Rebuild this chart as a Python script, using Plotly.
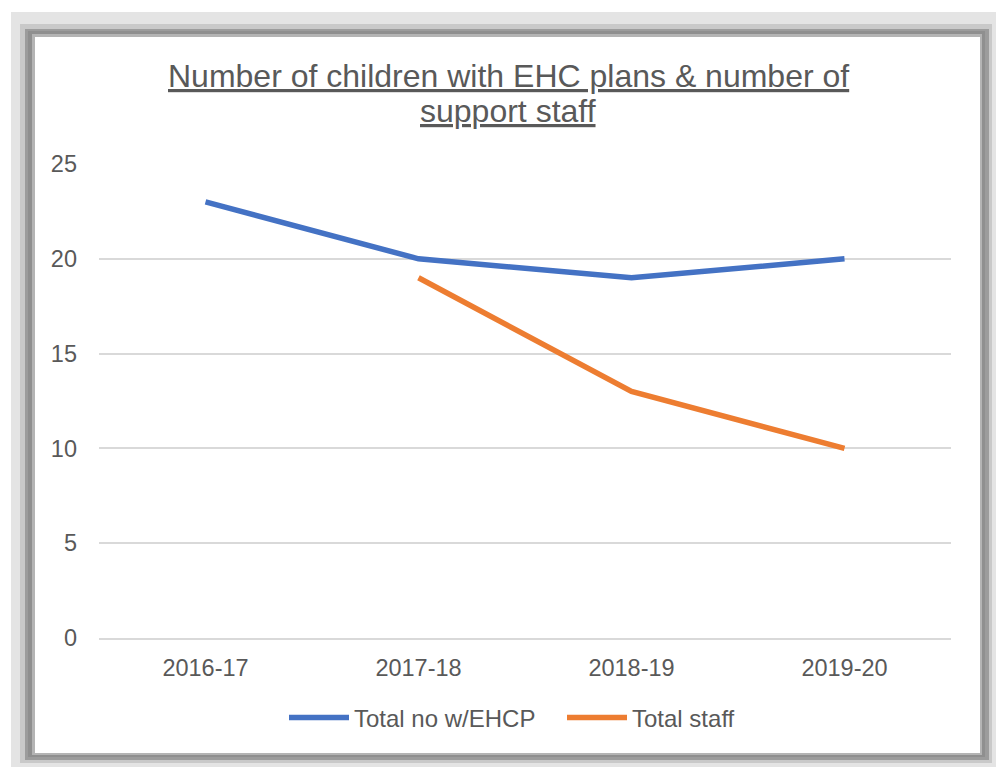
import plotly.graph_objects as go

categories = ["2016-17", "2017-18", "2018-19", "2019-20"]
ehcp_values = [23, 20, 19, 20]
staff_values = [None, 19, 13, 10]
y_ticks = [0, 5, 10, 15, 20, 25]

W, H = 997, 767
L, R, T, B = 99, 46, 164, 129
PW, PH = W - L - R, H - T - B

def px(x):
    return (x - L) / PW

def py(y):
    return (H - B - y) / PH

FONT = "Arial, 'Liberation Sans', sans-serif"
TXT = "#595959"

fig = go.Figure()
fig.add_trace(go.Scatter(x=categories, y=ehcp_values, mode="lines", name="Total no w/EHCP",
                         line=dict(color="#4472C4", width=5.5)))
fig.add_trace(go.Scatter(x=categories, y=staff_values, mode="lines", name="Total staff",
                         line=dict(color="#ED7D31", width=5.5)))

frame = [
    ((11, 12, 996, 767), "#e4e4e4"),
    ((20, 24, 992, 763), "#c9c9c9"),
    ((25, 29, 989, 760), "#9c9c9c"),
    ((28, 31, 985, 757), "#8f8f8f"),
    ((32, 34, 982, 755), "#b4b4b4"),
    ((35, 37, 980, 753), "#ffffff"),
]
shapes = []
for (x0, y0, x1, y1), c in frame:
    shapes.append(dict(type="rect", xref="paper", yref="paper", layer="below",
                       x0=px(x0), x1=px(x1), y0=py(y1), y1=py(y0),
                       fillcolor=c, line=dict(width=0)))

annotations = [
    dict(text="<u>Number of children with EHC plans &amp; number of</u>", xref="paper", yref="paper",
         x=px(508), y=py(76), xanchor="center", yanchor="middle", showarrow=False,
         font=dict(family=FONT, size=32, color=TXT)),
    dict(text="<u>support staff</u>", xref="paper", yref="paper",
         x=px(508), y=py(111), xanchor="center", yanchor="middle", showarrow=False,
         font=dict(family=FONT, size=32, color=TXT)),
]

fig.update_layout(
    width=W, height=H,
    margin=dict(l=L, r=R, t=T, b=B),
    paper_bgcolor="white", plot_bgcolor="rgba(0,0,0,0)",
    font=dict(family=FONT, size=23.5, color=TXT),
    shapes=shapes, annotations=annotations,
    showlegend=True,
    legend=dict(orientation="h", x=px(562), xanchor="center", y=py(718), yanchor="middle",
                font=dict(family=FONT, size=24, color=TXT), bgcolor="rgba(0,0,0,0)",
                itemwidth=60, entrywidth=203),
    xaxis=dict(type="category", range=[-0.5, 3.5], showgrid=False, zeroline=False,
               showline=True, linecolor="#d9d9d9", linewidth=1.5, ticks="",
               tickfont=dict(size=23.5, color=TXT), ticklabelstandoff=8),
    yaxis=dict(range=[0, 25], tickvals=y_ticks, showgrid=True, gridcolor="#d9d9d9", gridwidth=1.5,
               zeroline=False, showline=False, ticks="", tickfont=dict(size=23.5, color=TXT),
               ticklabelstandoff=21),
)

fig.write_html("out.html")
